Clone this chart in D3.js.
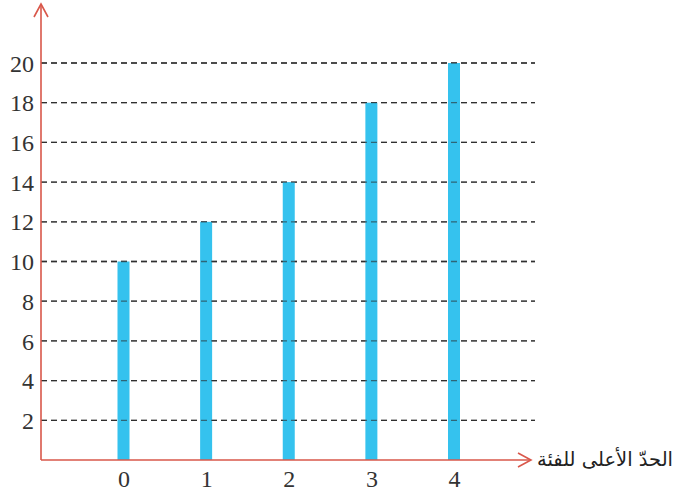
<!DOCTYPE html>
<html><head><meta charset="utf-8">
<script src="https://cdn.jsdelivr.net/npm/d3@7"></script>
<style>
html,body{margin:0;padding:0;background:#fff;}
svg{display:block;}
</style></head>
<body>
<svg id="c" width="676" height="492"></svg>
<script>
const categories = ["0","1","2","3","4"];
const values = [10, 12, 14, 18, 20];
const yTicks = [2,4,6,8,10,12,14,16,18,20];
const xTitle = "الحدّ الأعلى للفئة";

const svg = d3.select("#c");
const axisColor = "#d9574a";
const barColor = "#35c2ee";
const serif = "'Liberation Serif', 'Times New Roman', 'DejaVu Serif', serif";
const x0 = 41, yBase = 460;

const x = d3.scalePoint().domain(categories).range([123.5, 454]);
const y = d3.scaleLinear().domain([0, 20]).range([yBase, 63]);

// gridlines
svg.append("g").selectAll("line").data(yTicks).join("line")
  .attr("x1", x0).attr("x2", 535)
  .attr("y1", d => y(d)).attr("y2", d => y(d))
  .attr("stroke", "#3a3a3a").attr("stroke-width", 1.3)
  .attr("stroke-dasharray", "6,4");

// bars
svg.append("g").selectAll("rect").data(values).join("rect")
  .attr("x", (d,i) => x(categories[i]) - 6)
  .attr("width", 12)
  .attr("y", d => y(d))
  .attr("height", d => yBase - y(d))
  .attr("fill", barColor);

// dashes visible over bars
svg.append("g").selectAll("line").data(yTicks).join("line")
  .attr("x1", x0).attr("x2", 535)
  .attr("y1", d => y(d)).attr("y2", d => y(d))
  .attr("stroke", "#2a2a2a").attr("stroke-width", 1.3).attr("opacity", 0.6)
  .attr("stroke-dasharray", "6,4");

// y axis labels
const yAxis = d3.axisLeft(y).tickValues(yTicks).tickSize(0).tickPadding(7);
const gy = svg.append("g").attr("transform", `translate(${x0},0)`).call(yAxis);
gy.attr("font-family", serif).attr("font-size", 24);
gy.select(".domain").remove();
gy.selectAll("text").style("font-family", serif).style("font-size", "24px")
  .attr("fill", "#333").attr("dy", "0.34em");

// x axis labels
const xAxis = d3.axisBottom(x).tickSize(0).tickPadding(10);
const gx = svg.append("g").attr("transform", `translate(0,${yBase})`).call(xAxis);
gx.attr("font-family", serif).attr("font-size", 24);
gx.select(".domain").remove();
gx.selectAll("text").style("font-family", serif).style("font-size", "24px")
  .attr("fill", "#333");

// axes lines
svg.append("line").attr("x1", x0).attr("x2", x0).attr("y1", yBase).attr("y2", 4)
  .attr("stroke", axisColor).attr("stroke-width", 1.6);
svg.append("line").attr("x1", x0).attr("x2", 531).attr("y1", yBase).attr("y2", yBase)
  .attr("stroke", axisColor).attr("stroke-width", 1.6);
// arrows
svg.append("path").attr("d", `M${x0-7},${17} L${x0},${4} L${x0+7},${17}`)
  .attr("fill", "none").attr("stroke", axisColor).attr("stroke-width", 1.6);
svg.append("path").attr("d", `M518,${yBase-7} L531,${yBase} L518,${yBase+7}`)
  .attr("fill", "none").attr("stroke", axisColor).attr("stroke-width", 1.6);

// x title
svg.append("text").attr("x", 673).attr("y", 466)
  .attr("text-anchor", "end")
  .style("font-family", "'DejaVu Sans', 'Noto Sans', sans-serif").style("font-size", "19.5px")
  .attr("fill", "#222").text(xTitle);
</script>
</body></html>
